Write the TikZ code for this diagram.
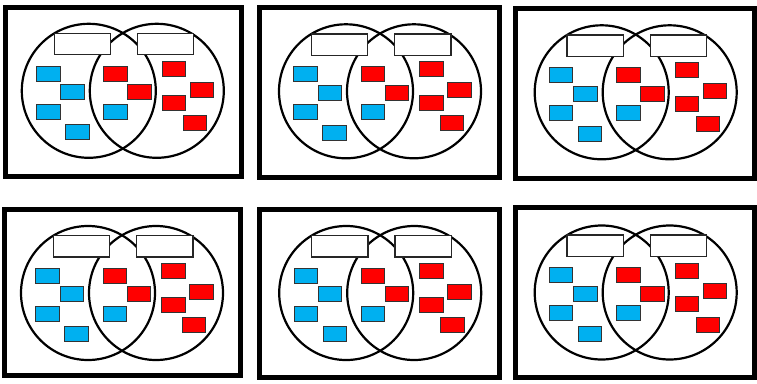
\documentclass[tikz,border=0pt]{standalone}
\definecolor{cblue}{HTML}{00B0F0}
\definecolor{cred}{HTML}{FF0000}
\tikzset{
  panelframe/.style={line width=5pt},
  ring/.style={circle, draw=black, line width=2.2pt, minimum size=134pt, inner sep=0pt},
  tag/.style={draw=black!85, line width=1.3pt, fill=white, minimum width=56.3pt, minimum height=21.4pt, inner sep=0pt},
  chip/.style={draw=black!80, line width=1pt, minimum width=23.4pt, minimum height=15pt, inner sep=0pt},
  bchip/.style={chip, fill=cblue},
  rchip/.style={chip, fill=cred}
}
\newcommand\vennpanel[7]{%
  \draw[panelframe] (#2+2.5,#3+2.5) rectangle (#4-2.5,#5-2.5);
  \begin{scope}[shift={(#6,#7)}]
    \node[ring] (#1L) at (0,0) {};
    \node[ring] (#1R) at (68,0) {};
    \node[tag] (#1tl) at (-6.5,-46.7) {};
    \node[tag] (#1tr) at (76.8,-46.7) {};
    \node[bchip] (#1b1) at (-40.5,-17.3) {};
    \node[bchip] (#1b2) at (-16.2,1.2) {};
    \node[bchip] (#1b3) at (-40.5,20.8) {};
    \node[bchip] (#1b4) at (-11.5,41.2) {};
    \node[bchip] (#1b5) at (26.7,20.8) {};
    \node[rchip] (#1r1) at (26.7,-17.3) {};
    \node[rchip] (#1r2) at (50.7,1.2) {};
    \node[rchip] (#1r3) at (85.3,-22) {};
    \node[rchip] (#1r4) at (113.3,-1.3) {};
    \node[rchip] (#1r5) at (85.3,11.7) {};
    \node[rchip] (#1r6) at (106.2,32) {};
  \end{scope}
}
\begin{document}
\begin{tikzpicture}[x=1pt,y=-1pt]
  \useasboundingbox (0,0) rectangle (757,383);
  \vennpanel{pa}{3.3}{4.7}{244.3}{179.3}{88.8}{90.8}
  \vennpanel{pb}{257.3}{4.7}{502}{180}{346}{91.3}
  \vennpanel{pc}{513.3}{5.7}{756.7}{180.7}{601.7}{92.3}
  \vennpanel{pd}{1.7}{206.7}{243.3}{378.3}{88}{293}
  \vennpanel{pe}{257.3}{206.7}{502}{380}{346.2}{293}
  \vennpanel{pf}{513.3}{205}{756.7}{380}{601.7}{292.5}
\end{tikzpicture}
\end{document}
